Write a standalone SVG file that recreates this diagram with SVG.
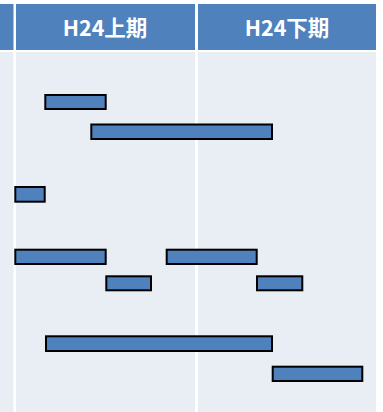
<svg xmlns="http://www.w3.org/2000/svg" width="383" height="412" viewBox="0 0 383 412">
<style>
.hdr{fill:#4F81BD}
.body{fill:#E9EDF4}
.lbl{font-family:"Noto Sans CJK JP","Liberation Sans",sans-serif;font-weight:bold;font-size:21.5px;fill:#FFFFFF;text-anchor:middle}
.bar{fill:#4F81BD;stroke:#000000;stroke-width:2}
</style>
<rect x="0" y="0" width="383" height="412" fill="#FFFFFF"/>
<g id="header">
<rect class="hdr" x="0" y="4" width="13.5" height="46"/>
<rect class="hdr" x="16" y="4" width="179" height="46"/>
<rect class="hdr" x="198" y="4" width="178" height="46"/>
<text class="lbl" x="105" y="35.5">H24上期</text>
<text class="lbl" x="287" y="35.5">H24下期</text>
</g>
<g id="grid">
<rect class="body" x="0" y="52" width="13.5" height="360"/>
<rect class="body" x="16" y="52" width="179" height="360"/>
<rect class="body" x="198" y="52" width="178" height="360"/>
</g>
<g id="bars">
<rect id="bar1" class="bar" x="45.3" y="95" width="60.4" height="14"/>
<rect id="bar2" class="bar" x="91.3" y="124.5" width="180.7" height="14.5"/>
<rect id="bar3" class="bar" x="15.3" y="187" width="29.4" height="14.7"/>
<rect id="bar4" class="bar" x="15.3" y="249.7" width="90.4" height="14.3"/>
<rect id="bar5" class="bar" x="166.7" y="249.7" width="90" height="14.3"/>
<rect id="bar6" class="bar" x="106.3" y="276.3" width="44.7" height="14"/>
<rect id="bar7" class="bar" x="257" y="276.3" width="45.3" height="14"/>
<rect id="bar8" class="bar" x="46" y="336.3" width="226" height="14.7"/>
<rect id="bar9" class="bar" x="272.7" y="366.7" width="89.6" height="14.3"/>
</g>
<g id="connectors"></g>
</svg>
